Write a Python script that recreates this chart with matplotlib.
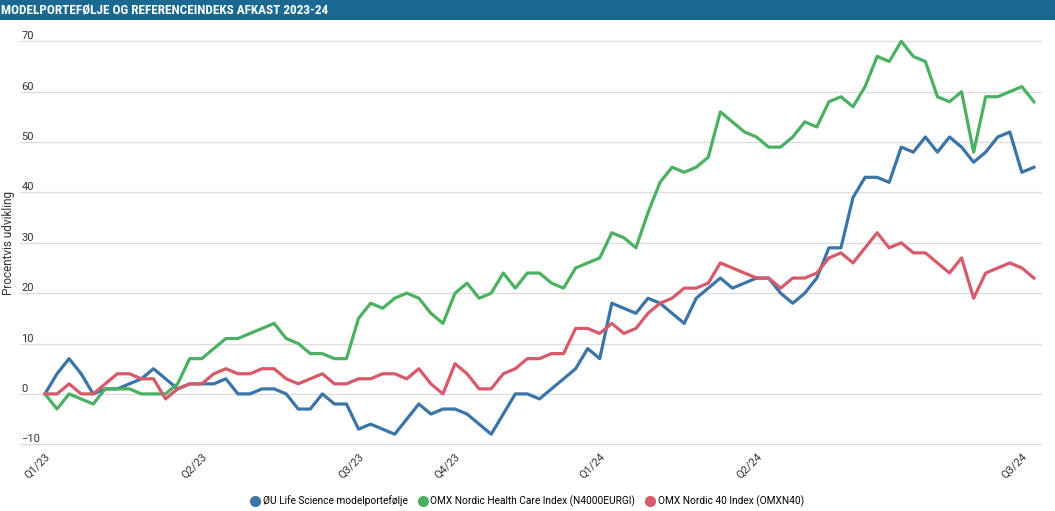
import numpy as np
import matplotlib.pyplot as plt
from matplotlib.lines import Line2D
from matplotlib.patches import Rectangle
from matplotlib import font_manager

# weekly development in percent
ou_life = [0, 4, 7, 4, 0, 1, 1, 2, 3, 5,
           3, 1, 2, 2, 2, 3, 0, 0, 1, 1,
           0, -3, -3, 0, -2, -2, -7, -6, -7, -8,
           -5, -2, -4, -3, -3, -4, -6, -8, -4, 0,
           0, -1, 1, 3, 5, 9, 7, 18, 17, 16,
           19, 18, 16, 14, 19, 21, 23, 21, 22, 23,
           23, 20, 18, 20, 23, 29, 29, 39, 43, 43,
           42, 49, 48, 51, 48, 51, 49, 46, 48, 51,
           52, 44, 45]
omx_health = [0, -3, 0, -1, -2, 1, 1, 1, 0, 0,
              0, 2, 7, 7, 9, 11, 11, 12, 13, 14,
              11, 10, 8, 8, 7, 7, 15, 18, 17, 19,
              20, 19, 16, 14, 20, 22, 19, 20, 24, 21,
              24, 24, 22, 21, 25, 26, 27, 32, 31, 29,
              36, 42, 45, 44, 45, 47, 56, 54, 52, 51,
              49, 49, 51, 54, 53, 58, 59, 57, 61, 67,
              66, 70, 67, 66, 59, 58, 60, 48, 59, 59,
              60, 61, 58]
omx_nordic40 = [0, 0, 2, 0, 0, 2, 4, 4, 3, 3,
                -1, 1, 2, 2, 4, 5, 4, 4, 5, 5,
                3, 2, 3, 4, 2, 2, 3, 3, 4, 4,
                3, 5, 2, 0, 6, 4, 1, 1, 4, 5,
                7, 7, 8, 8, 13, 13, 12, 14, 12, 13,
                16, 18, 19, 21, 21, 22, 26, 25, 24, 23,
                23, 21, 23, 23, 24, 27, 28, 26, 29, 32,
                29, 30, 28, 28, 26, 24, 27, 19, 24, 25,
                26, 25, 23]

series_names = ['ØU Life Science modelportefølje',
                'OMX Nordic Health Care Index (N4000EURGI)',
                'OMX Nordic 40 Index (OMXN40)']
colors = ['#3b74a7', '#4cb062', '#d65a6a']

quarter_labels = ['Q1/23', 'Q2/23', 'Q3/23', 'Q4/23', 'Q1/24', 'Q2/24', 'Q3/24']
quarter_pos = [0, 13, 26, 34, 46, 59, 81]
y_ticks = [-10, 0, 10, 20, 30, 40, 50, 60, 70]

plt.rcParams['font.family'] = ['Roboto', 'DejaVu Sans']

W, H = 1055, 511
fig = plt.figure(figsize=(W / 100, H / 100), dpi=100)
ax = fig.add_axes([20 / W, 1 - 446.8 / H, 1022 / W, 408 / H])

weeks = np.arange(len(ou_life))
for vals, col in zip([ou_life, omx_health, omx_nordic40], colors):
    ax.plot(weeks, vals, color=col, lw=2.3)

ax.set_xlim(-2.07, 82.67)
ax.set_ylim(-10.5, 70.5)
ax.set_yticks(y_ticks)
ax.grid(axis='y', color='#dcdcdc', lw=0.9)
ax.set_axisbelow(True)
for s in ax.spines.values():
    s.set_visible(False)

ax.tick_params(axis='y', length=0, pad=-1, labelsize=8, labelcolor='#333333')
for lab in ax.get_yticklabels():
    lab.set_ha('left')
    lab.set_va('bottom')

ax.set_xticks(quarter_pos, quarter_labels, rotation=45, ha='right',
              rotation_mode='anchor')
ax.tick_params(axis='x', length=0, pad=3, labelsize=8, labelcolor='#333333')

ax.set_ylabel('Procentvis udvikling', fontsize=8.5, color='#333333')
ax.yaxis.set_label_coords(-0.005, 0.5)

# title band
fig.add_artist(Rectangle((0, 1 - 20 / H), 1, 20 / H, transform=fig.transFigure,
                         facecolor='#1b6991', edgecolor='none'))
names = {f.name for f in font_manager.fontManager.ttflist}
title_font = 'DejaVu Sans'
for cand in ['Roboto Condensed', 'Liberation Sans Narrow']:
    if cand in names:
        title_font = cand
        break
title = fig.text(1 / W, 1 - 10.5 / H, 'MODELPORTEFØLJE OG REFERENCEINDEKS AFKAST 2023-24',
                 color='white', fontweight='bold', fontstretch='condensed',
                 family=title_font, fontsize=12, ha='left', va='center')
r = fig.canvas.get_renderer()
w = title.get_window_extent(r).width
title.set_fontsize(min(12 * 328 / w, 14))

handles = [Line2D([], [], marker='o', ls='', color=c, markersize=7) for c in colors]
fig.legend(handles, series_names, loc='center', bbox_to_anchor=(0.499, 1 - 501 / H),
           ncol=3, frameon=False, fontsize=7.3, handletextpad=0.15, columnspacing=0.9,
           handlelength=1.2)

fig.savefig('out.png', dpi=100)
